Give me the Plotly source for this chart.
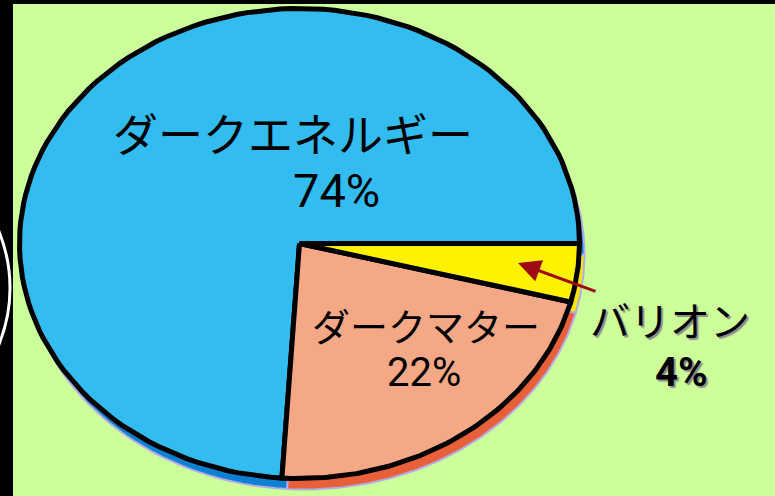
import numpy as np
import plotly.graph_objects as go

# ---- data ----
categories = ["バリオン", "ダークマター", "ダークエネルギー"]
percents = [4, 22, 74]
pct_labels = ["4%", "22%", "74%"]

# ---- styles ----
fill_colors = ["#FFF200", "#F4A886", "#32BCF0"]
shadow_colors = ["#F5E600", "#E8603A", "#0C80D2"]
W, H = 775, 496
cx, cy, rx, ry = 299.5, 243.5, 280, 235
shadow_dx, shadow_dy = 5, 11

def slice_path(t0, t1, ox=0, oy=0, n=120):
    ts = np.linspace(t0, t1, n)
    xs = [cx + ox] + list(cx + ox + rx * np.cos(ts)) + [cx + ox]
    ys = [cy + oy] + list(cy + oy + ry * np.sin(ts)) + [cy + oy]
    return xs, ys

total = sum(percents)
bounds = np.cumsum([0] + percents) / total * 2 * np.pi

fig = go.Figure()

# shadow (thickness) layer
for i in range(len(percents)):
    xs, ys = slice_path(bounds[i], bounds[i + 1], shadow_dx, shadow_dy)
    fig.add_trace(go.Scatter(x=xs, y=ys, mode="lines", fill="toself",
                             fillcolor=shadow_colors[i],
                             line=dict(color="#B4ACE8", width=2),
                             hoverinfo="skip", showlegend=False))

# main slices: draw dark energy first, then dark matter, then baryons
for i in [2, 1, 0]:
    xs, ys = slice_path(bounds[i], bounds[i + 1])
    fig.add_trace(go.Scatter(x=xs, y=ys, mode="lines", fill="toself",
                             fillcolor=fill_colors[i],
                             line=dict(color="black", width=5),
                             name=categories[i], hoverinfo="name",
                             showlegend=False))

jp = "Noto Sans CJK JP"
num = "Roboto, Liberation Sans, sans-serif"
shadow = "2px 2px 1px #8c8c8c"

annotations = [
    dict(x=293, y=132, text=categories[2], font=dict(family=jp, size=45, color="black")),
    dict(x=336, y=190, text=pct_labels[2], font=dict(family=num, size=47, color="black")),
    dict(x=426, y=324, text=categories[1], font=dict(family=jp, size=38, color="black")),
    dict(x=424, y=372, text=pct_labels[1], font=dict(family=num, size=40, color="black")),
    dict(x=670, y=319, text=categories[0], font=dict(family=jp, size=40, color="black", shadow=shadow)),
    dict(x=681, y=372, text=pct_labels[0], font=dict(family=num, size=40, color="black", weight="bold", shadow=shadow)),
]
for a in annotations:
    a.update(xref="x", yref="y", showarrow=False, xanchor="center", yanchor="middle")

# arrow pointing to the baryon slice
annotations.append(dict(x=518, y=263, ax=597, ay=292, xref="x", yref="y",
                        axref="x", ayref="y", text="", showarrow=True,
                        arrowhead=2, arrowsize=1.5, arrowwidth=3,
                        arrowcolor="#9E0B10"))

shapes = [
    dict(type="rect", xref="x", yref="y", x0=13, x1=W, y0=4, y1=H,
         fillcolor="#CCFF99", line=dict(width=0), layer="below"),
    dict(type="circle", xref="x", yref="y", x0=-290, x1=10, y0=138, y1=438,
         line=dict(color="white", width=3), layer="above"),
]

fig.update_layout(
    width=W, height=H, autosize=False,
    margin=dict(l=0, r=0, t=0, b=0, pad=0),
    paper_bgcolor="black", plot_bgcolor="black",
    xaxis=dict(range=[0, W], visible=False, fixedrange=True),
    yaxis=dict(range=[H, 0], visible=False, fixedrange=True),
    annotations=annotations, shapes=shapes,
    showlegend=False,
)

fig.write_html(
    "out.html",
    config={"displayModeBar": False},
    post_script="document.body.style.margin='0';document.body.style.background='black';",
)
